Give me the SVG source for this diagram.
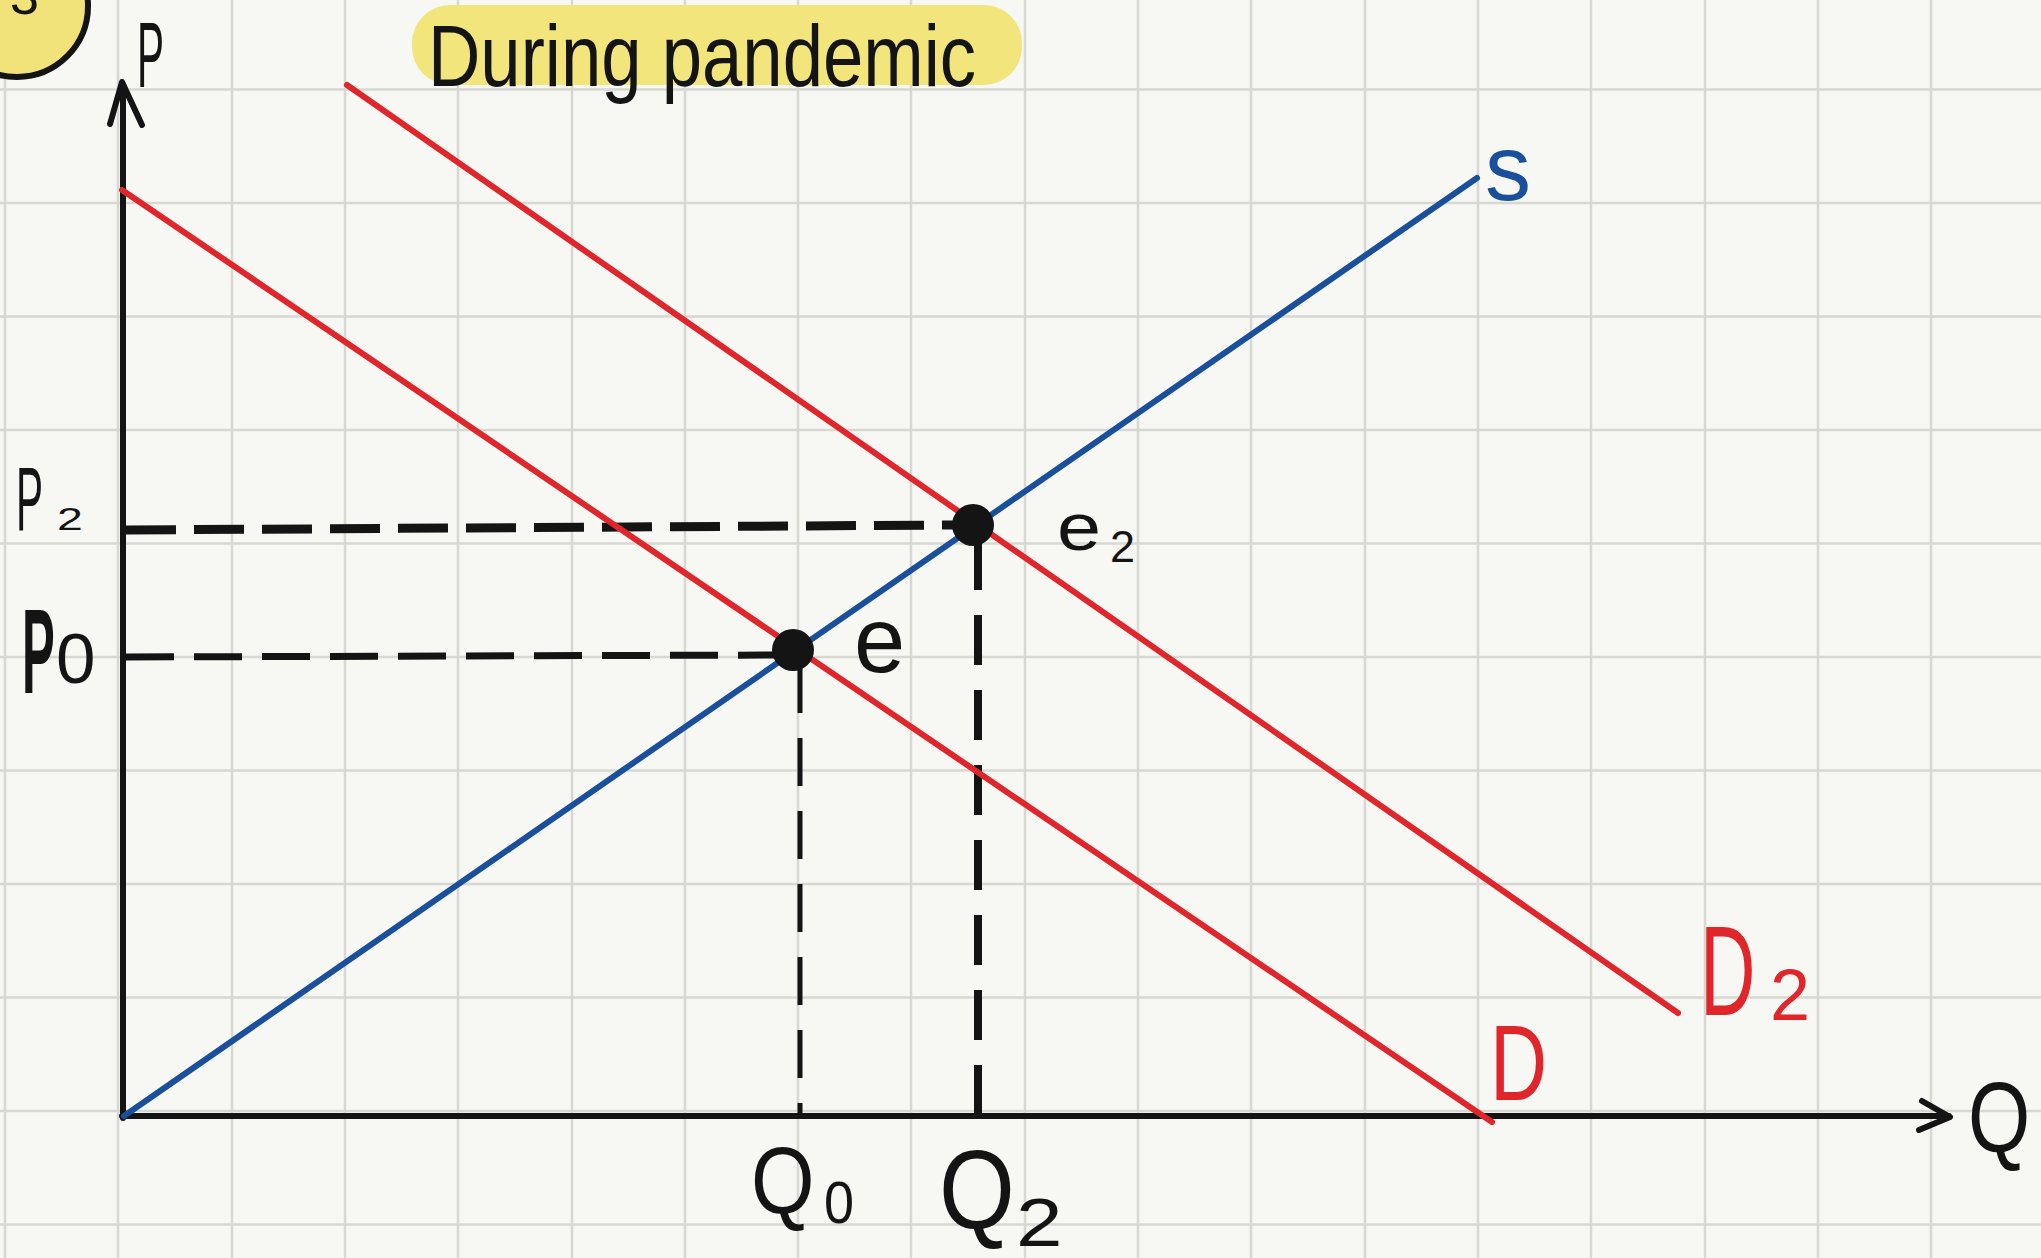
<svg xmlns="http://www.w3.org/2000/svg" width="2041" height="1258" viewBox="0 0 2041 1258">
<defs>
<style>
.grid line{stroke:#d8d8d3;stroke-width:2.5}
.ink{fill:none;stroke:#141414;stroke-linecap:round;stroke-linejoin:round}
.lbl{font-family:"Liberation Sans","DejaVu Sans",sans-serif;fill:#141414}
.red{fill:#e0262b}
.blue{fill:#1a4f9b}
.dash{fill:none;stroke:#141414;stroke-linecap:butt}
</style>
</defs>
<rect x="0" y="0" width="2041" height="1258" fill="#f7f7f3"/>
<g class="grid" id="grid">
<line x1="5" y1="0" x2="5" y2="1258"/><line x1="118" y1="0" x2="118" y2="1258"/><line x1="232" y1="0" x2="232" y2="1258"/><line x1="345" y1="0" x2="345" y2="1258"/><line x1="458" y1="0" x2="458" y2="1258"/><line x1="572" y1="0" x2="572" y2="1258"/><line x1="685" y1="0" x2="685" y2="1258"/><line x1="798" y1="0" x2="798" y2="1258"/><line x1="911" y1="0" x2="911" y2="1258"/><line x1="1025" y1="0" x2="1025" y2="1258"/><line x1="1138" y1="0" x2="1138" y2="1258"/><line x1="1251" y1="0" x2="1251" y2="1258"/><line x1="1365" y1="0" x2="1365" y2="1258"/><line x1="1478" y1="0" x2="1478" y2="1258"/><line x1="1591" y1="0" x2="1591" y2="1258"/><line x1="1705" y1="0" x2="1705" y2="1258"/><line x1="1818" y1="0" x2="1818" y2="1258"/><line x1="1931" y1="0" x2="1931" y2="1258"/>
<line x1="0" y1="89.5" x2="2041" y2="89.5"/><line x1="0" y1="203" x2="2041" y2="203"/><line x1="0" y1="316.5" x2="2041" y2="316.5"/><line x1="0" y1="430" x2="2041" y2="430"/><line x1="0" y1="543.5" x2="2041" y2="543.5"/><line x1="0" y1="657" x2="2041" y2="657"/><line x1="0" y1="770.5" x2="2041" y2="770.5"/><line x1="0" y1="884" x2="2041" y2="884"/><line x1="0" y1="997.5" x2="2041" y2="997.5"/><line x1="0" y1="1111" x2="2041" y2="1111"/><line x1="0" y1="1224.5" x2="2041" y2="1224.5"/>
</g>
<g id="badge">
<circle cx="17" cy="6" r="71" fill="#f1e37a" stroke="#141414" stroke-width="6"/>
<text class="lbl" x="10" y="14" font-size="52">3</text>
</g>
<g id="title">
<rect x="412" y="5" width="610" height="80" rx="38" fill="#f1e57c"/>
<text class="lbl" x="428" y="86" font-size="88" textLength="548" lengthAdjust="spacingAndGlyphs">During pandemic</text>
</g>
<g id="axes">
<path class="ink" stroke-width="6" d="M123 1118 V84 M110 124 L122 82 L142 125"/>
<path class="ink" stroke-width="6" d="M122 1116 H1949 M1922 1101 L1950 1117 L1919 1130"/>
<text class="lbl" transform="translate(137 87) scale(0.44 1)" font-size="92">P</text>
<text class="lbl" transform="translate(1968 1152) scale(0.8 1)" font-size="100">Q</text>
</g>
<g id="connectors">
<path class="dash" stroke-width="9" stroke-dasharray="50 18" d="M126 530 L955 525"/>
<path class="dash" stroke-width="7" stroke-dasharray="48 20" d="M126 657 L785 655"/>
<path class="dash" stroke-width="5" stroke-dasharray="48 25" d="M800 665 V1116"/>
<path class="dash" stroke-width="8" stroke-dasharray="50 25" d="M978 540 V1116"/>
</g>
<g id="curve-S">
<line x1="124" y1="1116" x2="1477" y2="178" stroke="#1a4f9b" stroke-width="6" stroke-linecap="round"/>
<text class="lbl blue" x="1485" y="200" font-size="92">s</text>
</g>
<g id="curve-D">
<line x1="122" y1="190" x2="1492" y2="1122" stroke="#e0262b" stroke-width="6" stroke-linecap="round"/>
<text class="lbl red" transform="translate(1490 1100) scale(0.74 1)" font-size="107">D</text>
</g>
<g id="curve-D2">
<line x1="347" y1="85" x2="1678" y2="1013" stroke="#e0262b" stroke-width="6" stroke-linecap="round"/>
<text class="lbl red" transform="translate(1700 1015) scale(0.6 1)" font-size="128">D</text>
<text class="lbl red" x="1770" y="1020" font-size="72">2</text>
</g>
<g id="point-e">
<circle cx="793" cy="650" r="21" fill="#141414"/>
<text class="lbl" x="854" y="672" font-size="92">e</text>
</g>
<g id="point-e2">
<circle cx="973" cy="525" r="21" fill="#141414"/>
<text class="lbl" transform="translate(1057 550) scale(1.2 1)" font-size="66">e</text>
<text class="lbl" x="1110" y="562" font-size="45">2</text>
</g>
<g id="label-P2">
<text class="lbl" transform="translate(16 530) scale(0.45 1)" font-size="90">P</text>
<text class="lbl" transform="translate(57 530) scale(1.45 1)" font-size="32">2</text>
</g>
<g id="label-P0" font-weight="bold">
<text class="lbl" transform="translate(22 693) scale(0.41 1)" font-size="120">P</text>
<text class="lbl" x="56" y="683" font-size="71" font-weight="normal">0</text>
</g>
<g id="label-Q0">
<text class="lbl" transform="translate(751 1213) scale(0.86 1)" font-size="95">Q</text>
<text class="lbl" transform="translate(824 1223) scale(0.9 1)" font-size="60">0</text>
</g>
<g id="label-Q2">
<text class="lbl" transform="translate(939 1228) scale(0.87 1)" font-size="112">Q</text>
<text class="lbl" transform="translate(1016 1246) scale(1.23 1)" font-size="68">2</text>
</g>
</svg>
